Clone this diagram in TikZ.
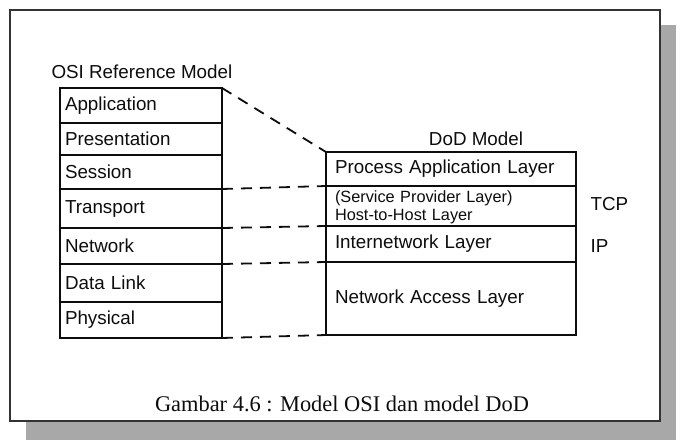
\documentclass[tikz,border=0pt]{standalone}
\usepackage{fontspec}
\setmainfont{Liberation Serif}
\setsansfont{Liberation Sans}
\usetikzlibrary{positioning}
\definecolor{LayerInk}{gray}{0.05}
\definecolor{LayerFrame}{gray}{0.2}
\definecolor{LayerShadow}{gray}{0.66}
\tikzset{
    layer/diagram/.style={
        x=1pt, y=-1pt,
        font=\sffamily\fontsize{18.8}{22}\selectfont,
        text=LayerInk,
        line join=miter
    },
    layer/frame/.style={draw=LayerFrame, fill=white, line width=1.3pt},
    layer/shadow/.style={fill=LayerShadow, draw=none},
    layer/row/.style={
        draw=LayerInk, line width=1.8pt, align=left,
        inner ysep=0pt, outer sep=0pt
    },
    layer/osi/.style={layer/row, text width=152pt, inner xsep=5pt},
    layer/dod/.style={layer/row, text width=232pt, inner xsep=9pt},
    layer/link/.style={
        draw=LayerInk, line width=1.8pt,
        dash pattern=on 11pt off 8pt
    },
    layer/small/.style={font=\sffamily\fontsize{16.3}{18}\selectfont},
    layer/caption/.style={font=\rmfamily\fontsize{22.4}{26}\selectfont}
}
\begin{document}
\begin{tikzpicture}[layer/diagram]
    \useasboundingbox (0,0) rectangle (680,440);
    \fill[layer/shadow] (26,25) rectangle (676,440);
    \draw[layer/frame] (10,10) rectangle (660,421);
    % OSI stack
    \node[anchor=base west] (osititle) at (48,78) {OSI Reference Model};
    \node[layer/osi, anchor=north west, minimum height=35pt] (app) at (60,88) {Application};
    \node[layer/osi, minimum height=32pt, below=0pt of app] (pres) {Presentation};
    \node[layer/osi, minimum height=34pt, below=0pt of pres] (sess) {Session};
    \node[layer/osi, minimum height=39pt, below=0pt of sess] (trans) {Transport};
    \node[layer/osi, minimum height=36pt, below=0pt of trans] (net) {Network};
    \node[layer/osi, minimum height=38pt, below=0pt of net] (link) {Data Link};
    \node[layer/osi, minimum height=36pt, below=0pt of link] (phys) {Physical};
    % DoD stack
    \node[anchor=base] (dodtitle) at (476,145) {DoD Model};
    \node[layer/dod, anchor=north west, minimum height=34pt] (proc) at (326,152) {Process Application Layer};
    \node[layer/dod, layer/small, minimum height=40pt, below=0pt of proc] (host)
        {\rule{0pt}{15pt}(Service Provider Layer)\\Host-to-Host Layer};
    \node[layer/dod, minimum height=36pt, below=0pt of host] (inet) {Internetwork Layer};
    \node[layer/dod, minimum height=73pt, below=0pt of inet] (acc) {Network Access Layer};
    \node[anchor=base west] (tcp) at (587,210) {TCP};
    \node[anchor=base west] (ip) at (587,252) {IP};
    % links
    \draw[layer/link] (app.north east) -- (proc.north west);
    \draw[layer/link] (sess.south east) -- (host.north west);
    \draw[layer/link] (trans.south east) -- (inet.north west);
    \draw[layer/link] (net.south east) -- (acc.north west);
    \draw[layer/link] (phys.south east) -- (acc.south west);
    \node[layer/caption, anchor=base] (fig) at (342,411) {Gambar 4.6 : Model OSI dan model DoD};
\end{tikzpicture}
\end{document}
